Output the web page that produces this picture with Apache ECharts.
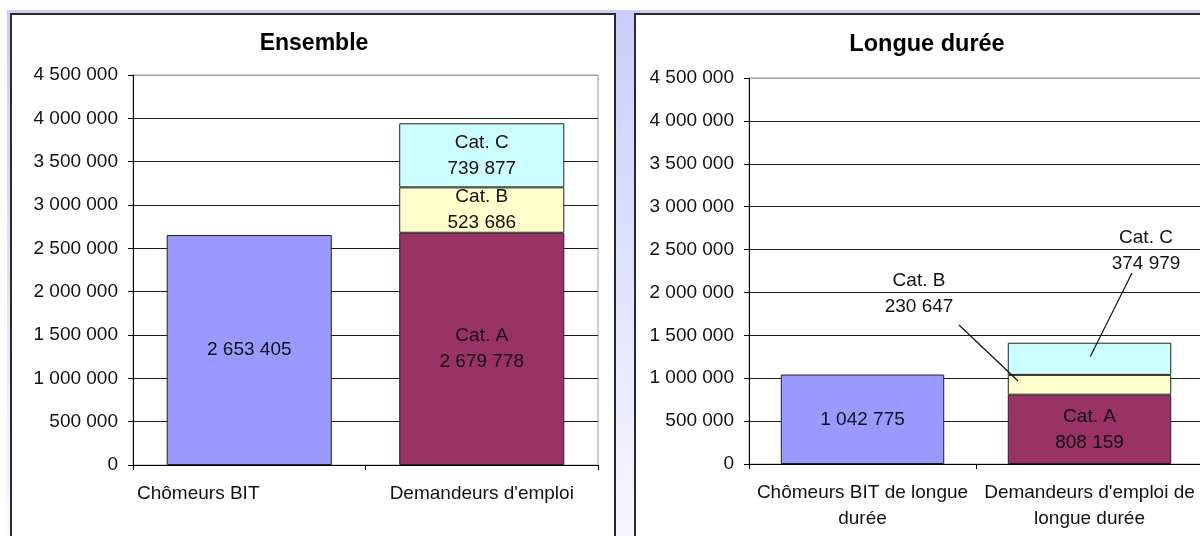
<!DOCTYPE html>
<html>
<head>
<meta charset="utf-8">
<script src="https://cdn.jsdelivr.net/npm/echarts@6/dist/echarts.min.js"></script>
<style>html,body{margin:0;padding:0;background:#fff}#c{width:1200px;height:536px}</style>
</head>
<body>
<div id="c"></div>
<script>
// ---- data ----
const categoriesLeft = ['Chômeurs BIT', "Demandeurs d'emploi"];
const categoriesRight = ['Chômeurs BIT de longue\ndurée', "Demandeurs d'emploi de\nlongue durée"];
const titles = ['Ensemble', 'Longue durée'];
const ensembleBIT = [2653405, '-'];
const ensembleCatA = ['-', 2679778];
const ensembleCatB = ['-', 523686];
const ensembleCatC = ['-', 739877];
const longueBIT = [1042775, '-'];
const longueCatA = ['-', 808159];
const longueCatB = ['-', 230647];
const longueCatC = ['-', 374979];
const yMin = 0, yMax = 4500000, yInterval = 500000;

const fmt = v => String(v).replace(/\B(?=(\d{3})+(?!\d))/g, ' ');
const FONT = '"Liberation Sans", Arial, sans-serif';
const TXT = '#111';
const colors = { bit: '#9999ff', a: '#993366', b: '#ffffcc', c: '#ccffff' };

const chart = echarts.init(document.getElementById('c'), null, { renderer: 'canvas' });

function yAxis(gi) {
  return {
    type: 'value', gridIndex: gi, min: yMin, max: yMax, interval: yInterval,
    axisLine: { show: true, lineStyle: { color: '#000', width: 1 } },
    axisTick: { show: true, length: 5, lineStyle: { color: '#000' } },
    axisLabel: { formatter: v => fmt(v), fontSize: 19, color: TXT, fontFamily: FONT, margin: 15 },
    splitLine: { show: true, lineStyle: { color: ['#1a1a1a','#1a1a1a','#1a1a1a','#1a1a1a','#1a1a1a','#1a1a1a','#1a1a1a','#1a1a1a','#1a1a1a','#a0a0a0'], width: 1 } }
  };
}
function xAxis(gi, data) {
  return {
    type: 'category', gridIndex: gi, data: data,
    axisLine: { show: true, lineStyle: { color: '#000', width: 1 } },
    axisTick: { show: true, length: 5, interval: 0, lineStyle: { color: '#000' } },
    axisLabel: { interval: 0, fontSize: 19, color: TXT, fontFamily: FONT, margin: 16, lineHeight: 26 },
    splitLine: { show: false }
  };
}
const lbl = (extra) => Object.assign({ show: true, position: 'inside', fontSize: 19, color: TXT, fontFamily: FONT, lineHeight: 26, textBorderWidth: 0 }, extra || {});
const item = c => ({ color: c, borderColor: '#222', borderWidth: 1 });

function bars(gi, stack, bit, a, b, c, outside, gap) {
  const s = [
    { type: 'bar', name: 'BIT', xAxisIndex: gi, yAxisIndex: gi, stack, data: bit, barCategoryGap: gap, itemStyle: item(colors.bit),
      label: lbl({ formatter: p => fmt(p.value) }) },
    { type: 'bar', name: 'Cat. A', xAxisIndex: gi, yAxisIndex: gi, stack, data: a, barCategoryGap: gap, itemStyle: item(colors.a),
      label: lbl({ formatter: p => 'Cat. A\n' + fmt(p.value) }) },
    { type: 'bar', name: 'Cat. B', xAxisIndex: gi, yAxisIndex: gi, stack, data: b, barCategoryGap: gap, itemStyle: item(colors.b),
      label: lbl({ formatter: p => 'Cat. B\n' + fmt(p.value), align: 'center', verticalAlign: 'middle' }) },
    { type: 'bar', name: 'Cat. C', xAxisIndex: gi, yAxisIndex: gi, stack, data: c, barCategoryGap: gap, itemStyle: item(colors.c),
      label: lbl({ formatter: p => 'Cat. C\n' + fmt(p.value), align: 'center', verticalAlign: 'middle' }) }
  ];
  if (outside) {
    s[2].labelLayout = { x: 919, y: 294, align: 'center', verticalAlign: 'middle' };
    s[3].labelLayout = { x: 1146, y: 251, align: 'center', verticalAlign: 'middle' };
  }
  return s;
}

const bgElements = [
  { id: 'bg', type: 'rect', z: -10, shape: { x: 7, y: 10, width: 1193, height: 526 },
    style: { fill: { type: 'linear', x: 0, y: 0, x2: 0, y2: 1, colorStops: [{ offset: 0, color: '#ccccff' }, { offset: 1, color: '#f6f6ff' }] } } },
  { id: 'p1', type: 'rect', z: -9, shape: { x: 11, y: 14, width: 604, height: 540 }, style: { fill: '#fff', stroke: '#2a2a2a', lineWidth: 2 } },
  { id: 'p2', type: 'rect', z: -9, shape: { x: 635, y: 14, width: 600, height: 540 }, style: { fill: '#fff', stroke: '#2a2a2a', lineWidth: 2 } }
];

const leftCats = categoriesLeft.map((c, i) => i === 0 ? { value: c, textStyle: { padding: [0, 102, 0, 0] } } : c);

const option = {
  backgroundColor: '#fff',
  animation: false,
  textStyle: { fontFamily: FONT },
  title: [
    { text: titles[0], left: 309, top: 27, textAlign: 'center', textStyle: { fontSize: 23, fontWeight: 'bold', color: '#000', fontFamily: FONT } },
    { text: titles[1], left: 922, top: 28, textAlign: 'center', textStyle: { fontSize: 23.5, fontWeight: 'bold', color: '#000', fontFamily: FONT } }
  ],
  grid: [
    { left: 133, top: 75, width: 465, height: 390, show: true, borderColor: '#a0a0a0', borderWidth: 1, backgroundColor: 'transparent', containLabel: false, outerBoundsMode: 'none' },
    { left: 749, top: 78, width: 454, height: 386, show: true, borderColor: '#a0a0a0', borderWidth: 1, backgroundColor: 'transparent', containLabel: false, outerBoundsMode: 'none' }
  ],
  xAxis: [xAxis(0, leftCats), xAxis(1, categoriesRight)],
  yAxis: [yAxis(0), yAxis(1)],
  graphic: { elements: bgElements.slice() },
  series: [].concat(
    bars(0, 'e', ensembleBIT, ensembleCatA, ensembleCatB, ensembleCatC, false, '29%'),
    bars(1, 'l', longueBIT, longueCatA, longueCatB, longueCatC, true, '28%')
  )
};
chart.setOption(option);

// leader lines for the moved labels, anchored in data space
const x0 = chart.convertToPixel({ xAxisIndex: 1 }, 0);
const x1 = chart.convertToPixel({ xAxisIndex: 1 }, 1);
const bw = (x1 - x0) * 0.72;
const yPix = v => chart.convertToPixel({ yAxisIndex: 1 }, v);
const aV = longueCatA[1], bV = longueCatB[1], cV = longueCatC[1];
const endB = [x1 - bw * 0.437, yPix(aV + bV * 0.69)];
const endC = [x1 + bw * 0.005, yPix(aV + bV + cV * 0.57)];
option.graphic.elements.push(
  { id: 'lb', type: 'line', z: 20, shape: { x1: 919 + 40, y1: 294 + 31, x2: endB[0], y2: endB[1] }, style: { stroke: '#111', lineWidth: 1.2 } },
  { id: 'lc', type: 'line', z: 20, shape: { x1: 1146 - 14, y1: 251 + 22, x2: endC[0], y2: endC[1] }, style: { stroke: '#111', lineWidth: 1.2 } }
);
chart.setOption(option, true);
</script>
</body>
</html>
